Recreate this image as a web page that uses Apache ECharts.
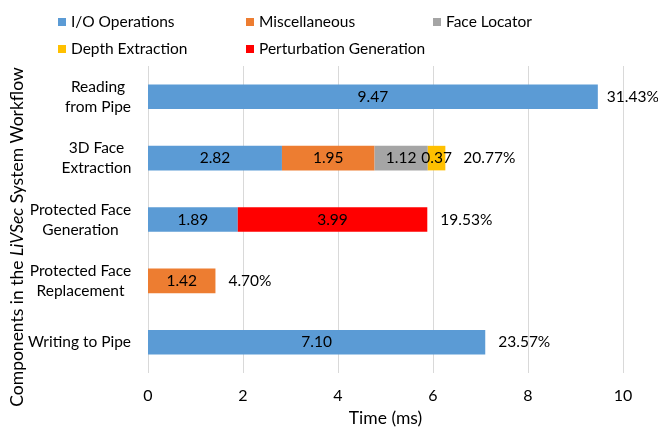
<!DOCTYPE html>
<html><head><meta charset="utf-8">
<script src="https://cdn.jsdelivr.net/npm/echarts@6/dist/echarts.min.js"></script>
<style>html,body{margin:0;padding:0;background:#fff}#c{width:658px;height:430px}</style>
</head><body><div id="c"></div>
<script>
const categories = ['Reading\nfrom Pipe', '3D Face\nExtraction', 'Protected Face\nGeneration', 'Protected Face\nReplacement', 'Writing to Pipe'];
const ioOps      = [9.47, 2.82, 1.89, null, 7.10];
const misc       = [null, 1.95, null, 1.42, null];
const faceLoc    = [null, 1.12, null, null, null];
const depthExt   = [null, 0.37, null, null, null];
const perturb    = [null, null, 3.99, null, null];
const pctLabels  = ['31.43%', '20.77%', '19.53%', '4.70%', '23.57%'];
const xTicks     = [0, 2, 4, 6, 8, 10];

const FONT = 'Lato';
const FS = 15.5;
const ctx = document.createElement('canvas').getContext('2d');
ctx.font = FS + 'px ' + FONT;
const rich = {};
categories.forEach((c, i) => {
  const w = Math.max(...c.split('\n').map(s => ctx.measureText(s).width));
  rich['c' + i] = {width: Math.ceil(w) + 1, align: 'center', fontSize: FS, fontFamily: FONT, lineHeight: 20, color: '#000'};
});

const seriesDefs = [
  ['I/O Operations', ioOps, '#5B9BD5'],
  ['Miscellaneous', misc, '#ED7D31'],
  ['Face Locator', faceLoc, '#A5A5A5'],
  ['Depth Extraction', depthExt, '#FFC000'],
  ['Perturbation Generation', perturb, '#FF0000']
];
const series = seriesDefs.map(([name, data, color]) => ({
  name, type: 'bar', stack: 'total', data, barWidth: '40%',
  itemStyle: {color},
  label: {show: true, position: 'inside', color: '#000', fontFamily: FONT, fontSize: FS,
    formatter: p => p.value == null ? '' : Number(p.value).toFixed(2)}
}));
series.push({
  name: 'pct', type: 'bar', stack: 'total', barWidth: '40%',
  data: pctLabels.map((t, i) => ({value: 0, label: {distance: i === 1 ? 18 : (i === 0 ? 9 : 13)}})),
  itemStyle: {color: 'transparent'},
  label: {show: true, position: 'right', color: '#000', fontFamily: FONT, fontSize: FS,
    formatter: p => pctLabels[p.dataIndex]}
});

const legendBase = {orient: 'vertical', top: 9, itemWidth: 8, itemHeight: 8, itemGap: 11,
  icon: 'rect', textStyle: {fontFamily: FONT, fontSize: FS, color: '#000', lineHeight: 16}};

const chart = echarts.init(document.getElementById('c'));
chart.setOption({
  animation: false,
  legend: [
    Object.assign({}, legendBase, {left: 53, data: ['I/O Operations', 'Depth Extraction']}),
    Object.assign({}, legendBase, {left: 241, data: ['Miscellaneous', 'Perturbation Generation']}),
    Object.assign({}, legendBase, {left: 428, data: ['Face Locator']})
  ],
  grid: {left: 148, right: 35, top: 66, bottom: 57, containLabel: false, outerBoundsMode: 'none'},
  xAxis: {
    type: 'value', min: xTicks[0], max: xTicks[xTicks.length - 1], interval: 2,
    axisLine: {show: false}, axisTick: {show: false},
    splitLine: {show: true, lineStyle: {color: '#D9D9D9', width: 1}},
    axisLabel: {fontFamily: FONT, fontSize: 16, color: '#000', margin: 15},
    name: 'Time (ms)', nameLocation: 'middle', nameGap: 33,
    nameTextStyle: {fontFamily: FONT, fontSize: 17.5, color: '#000'}
  },
  yAxis: {
    type: 'category', inverse: true, data: categories,
    axisLine: {show: false}, axisTick: {show: false},
    axisLabel: {margin: 16, align: 'right',
      formatter: (v, i) => v.split('\n').map(s => '{c' + i + '|' + s + '}').join('\n'),
      rich}
  },
  graphic: [{
    type: 'text', x: 17, y: 237, rotation: Math.PI / 2,
    style: {
      text: '{n|Components in the }{i|LiVSec}{n| System Workflow}',
      align: 'center', verticalAlign: 'middle',
      rich: {
        n: {fontFamily: FONT, fontSize: 17.5, fill: '#000'},
        i: {fontFamily: FONT, fontSize: 17.5, fill: '#000', fontStyle: 'italic'}
      }
    }
  }],
  series
});
</script></body></html>
